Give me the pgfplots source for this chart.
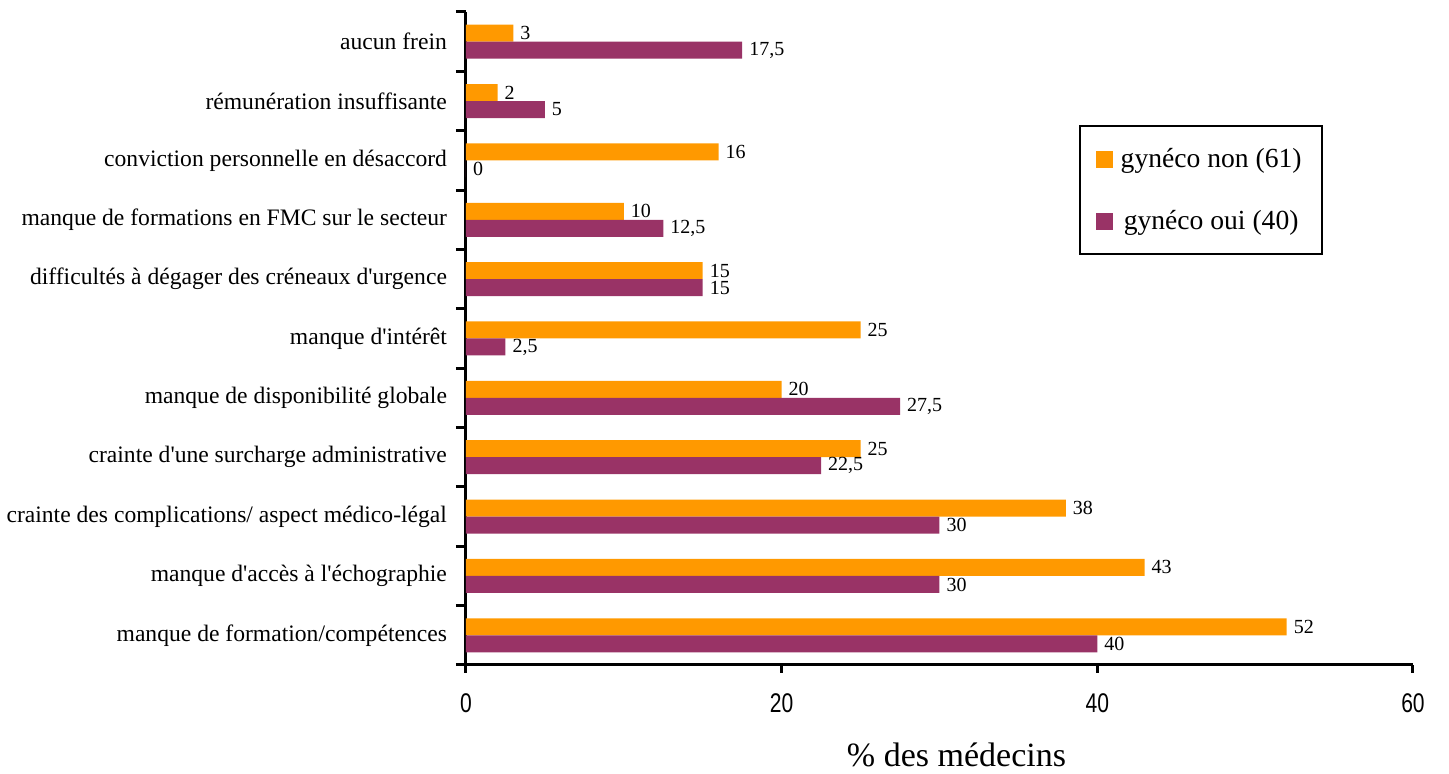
\documentclass[border=0pt]{standalone}
\usepackage{fontspec}
\setmainfont{Liberation Serif}[Ligatures=TeXOff]
\newfontfamily\ticksans[FakeStretch=0.78]{Liberation Sans}
\usepackage{pgfplots}
\usepackage{pgfplotstable}
\pgfplotsset{compat=1.18}
\usetikzlibrary{calc}
\definecolor{gnon}{HTML}{FF9900}
\definecolor{goui}{HTML}{993366}

% y = position (0 = bottom category), non = gyneco non, oui = gyneco oui
\pgfplotstableread{
y non oui
0 52 40
1 43 30
2 38 30
3 25 22.5
4 20 27.5
5 25 2.5
6 15 15
7 10 12.5
8 16 0
9 2 5
10 3 17.5
}\freins

\begin{document}
\begin{tikzpicture}
\begin{axis}[
  name=ax,
  scale only axis,
  width=473.5pt, height=326.5pt,
  xbar, bar width=8.5pt,
  xmin=0, xmax=60, ymin=-0.5, ymax=10.5,
  axis lines*=left,
  axis line style={line width=1.5pt, -},
  tick align=outside,
  xtick={0,20,40,60},
  ytick={0,...,10},
  yticklabels={manque de formation/compétences,
    manque d'accès à l'échographie,
    crainte des complications/ aspect médico-légal,
    crainte d'une surcharge administrative,
    manque de disponibilité globale,
    manque d'intérêt\ ,
    difficultés à dégager des créneaux d'urgence,
    manque de formations en FMC sur le secteur,
    conviction personnelle en désaccord,
    rémunération insuffisante,
    aucun frein},
  minor ytick={-0.5,0.5,...,10.5},
  major tick length=4pt,
  minor tick length=5pt,
  major x tick style={line width=1.5pt, black},
  major y tick style={draw=none},
  minor y tick style={line width=1.5pt, black},
  /pgf/number format/assume math mode=true,
  /pgf/number format/use comma,
  xticklabel style={font=\ticksans\fontsize{13.5}{14}\selectfont, yshift=-7pt},
  yticklabel style={font=\fontsize{11.8}{13}\selectfont, xshift=-2pt},
  xlabel={\% des médecins},
  xlabel style={font=\fontsize{17}{18}\selectfont, xshift=8.5pt, yshift=-8pt},
  nodes near coords,
  every node near coord/.append style={font=\fontsize{10}{11}\selectfont, anchor=west, black},
  legend style={at={(0.647,0.827)}, anchor=north west, draw=black, line width=1pt,
    font=\fontsize{13.8}{15}\selectfont, row sep=16pt, inner xsep=8pt, inner ysep=9pt,
    /tikz/every odd column/.append style={column sep=2pt}},
  legend image code/.code={\fill[#1] (0pt,-4.25pt) rectangle (8.5pt,4.25pt);},
]
\addplot[fill=gnon, draw=none, bar shift=4.25pt] table[x=non, y=y] {\freins};
\addlegendentry{gynéco non (61)}
\addplot[fill=goui, draw=none, bar shift=-4.25pt] table[x=oui, y=y] {\freins};
\addlegendentry{gynéco oui (40)}
\end{axis}
\pgfresetboundingbox
\path[use as bounding box] ($(ax.south west)+(-233pt,-54.5pt)$) rectangle ($(ax.north east)+(18pt,6pt)$);
\end{tikzpicture}
\end{document}
